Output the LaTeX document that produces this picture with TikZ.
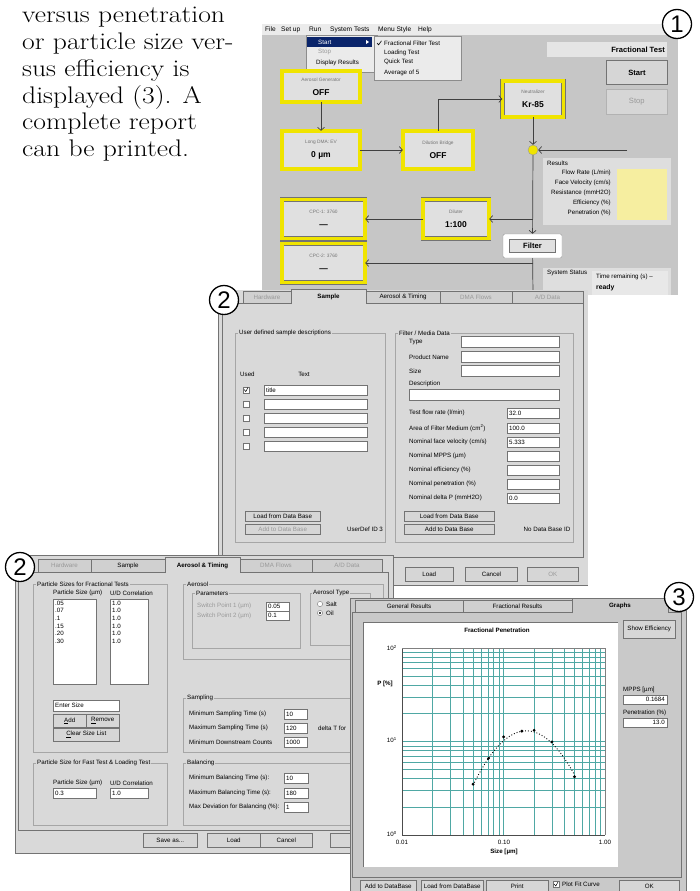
\documentclass[tikz,border=0pt]{standalone}
\usepackage{fontspec}
\setsansfont{Liberation Sans}
\newfontfamily\blurbfont[FakeStretch=1.15]{Latin Modern Roman}
\usetikzlibrary{arrows.meta}
\definecolor{scrgray}{HTML}{C6C6C6}
\definecolor{dlggray}{HTML}{D9D9D9}
\definecolor{gwgray}{HTML}{C9C9C9}
\definecolor{tabgray}{HTML}{D0D0D0}
\definecolor{btngray}{HTML}{D6D6D6}
\definecolor{ylw}{HTML}{F0E400}
\definecolor{boxgray}{HTML}{E0E0E0}
\definecolor{paleylw}{HTML}{F6EEA0}
\definecolor{menublue}{HTML}{0A246A}
\definecolor{gridteal}{HTML}{4FA8A4}
\newcommand\boxlbl[1]{{\fontsize{4.8}{5}\selectfont\color{black!55}#1}}
\newcommand\boxval[1]{{\bfseries\fontsize{8.5}{9}\selectfont #1}}
\begin{document}
\begin{tikzpicture}[x=1pt, y=-1pt,
  gui/.style={font=\sffamily\fontsize{6.2}{7}\selectfont, inner sep=0pt},
  guib/.style={font=\sffamily\bfseries\fontsize{6.2}{7}\selectfont, inner sep=0pt},
  dim/.style={text=black!40},
  ybox/.style={draw=black!55, double=ylw, double distance=3.4pt, line width=0.5pt,
    fill=boxgray, align=center, inner sep=0pt, font=\sffamily},
  flow/.style={black!75, line width=0.7pt, -{Straight Barb[length=3pt,width=7pt]}},
  link/.style={black!75, line width=0.7pt},
  field/.style={draw=black!55, fill=white, line width=0.4pt},
  btn/.style={draw=black!55, fill=btngray, line width=0.5pt, anchor=north west,
    font=\sffamily\fontsize{6.2}{7}\selectfont, inner sep=0pt},
  grp/.style={draw=black!35, line width=0.5pt},
  grptitle/.style={gui, anchor=west, inner xsep=1pt, fill=dlggray},
  tab/.style={draw=black!55, line width=0.5pt, fill=tabgray},
  menupop/.style={draw=black!45, fill=black!8, anchor=north west, inner sep=0pt},
  gridline/.style={gridteal, line width=0.55pt},
  numcirc/.style={circle, draw, line width=1.3pt, fill=white, minimum size=29pt,
    inner sep=0pt, font=\sffamily\fontsize{24}{24}\selectfont}
]
\useasboundingbox (0,0) rectangle (700,891);

% text column
\node[anchor=north west, align=left, inner sep=0pt, font=\blurbfont\fontsize{24}{26.8}\selectfont]
  (blurb) at (22,7) {versus penetration\\or particle size ver-\\sus efficiency is\\displayed (3). A\\complete report\\can be printed.};

% ---- screen 1: main window
\fill[scrgray] (262,24) rectangle (678,295);
\fill[black!8] (262,24) rectangle (678,35);
\foreach \x/\t [count=\i] in {265/File, 281/Set up, 309/Run, 330/System Tests, 378/Menu Style, 418/Help}
  \node[gui, anchor=west, font=\sffamily\fontsize{6.6}{7}\selectfont] (menu\i) at (\x,29.5) {\t};
\node[menupop, minimum width=71, minimum height=37] (runmenu) at (306,35) {};
\fill[menublue] (307,37) rectangle (372,47);
\fill[white] (366,40) -- (369,42) -- (366,44) -- cycle;
\node[gui, text=white, anchor=west] (mstart) at (318,42) {Start};
\node[gui, dim, anchor=west] (mstop) at (318,52) {Stop};
\node[gui, anchor=west] (mdisp) at (316,63) {Display Results};
\node[menupop, minimum width=87, minimum height=44] (submenu) at (374,36) {};
\draw[line width=0.6pt] (377,43) -- (378.6,44.8) -- (381.5,40.8);
\foreach \y/\t [count=\i] in {43/{Fractional Filter Test}, 53/{Loading Test}, 62/{Quick Test}, 73/{Average of 5}}
  \node[gui, anchor=west] (sub\i) at (384,\y) {\t};

\fill[black!10] (547,42) rectangle (667,57);
\node[anchor=east, inner sep=0pt, font=\sffamily\bfseries\fontsize{7.6}{8}\selectfont] (modetxt) at (665,49.5) {Fractional Test};
\node[btn, minimum width=61, minimum height=24, line width=0.8pt, font=\sffamily\bfseries\fontsize{7.6}{8}\selectfont] (startbtn) at (606,60) {Start};
\node[btn, dim, draw=black!30, minimum width=61, minimum height=25, font=\sffamily\fontsize{7.6}{8}\selectfont] (stopbtn) at (606,89) {Stop};

% flow boxes
\node[ybox, minimum width=78, minimum height=31] (aerogen) at (321,86.5) {\boxlbl{Aerosol Generator}\\[2pt]\boxval{OFF}};
\node[ybox, minimum width=78, minimum height=38] (longdma) at (321,150) {\boxlbl{Long DMA: EV}\\[2pt]\boxval{0 µm}};
\node[ybox, minimum width=70, minimum height=38] (dilbridge) at (438,150) {\boxlbl{Dilution Bridge}\\[2pt]\boxval{OFF}};
\node[ybox, minimum width=61, minimum height=36] (neutr) at (533,99) {\boxlbl{Neutralizer}\\[2pt]\boxval{Kr-85}};
\node[ybox, minimum width=66, minimum height=39] (diluter) at (456,219) {\boxlbl{Diluter}\\[2pt]\boxval{1:100}};
\node[ybox, minimum width=83, minimum height=39] (cpcone) at (323.5,219) {\boxlbl{CPC-1: 3760}\\[2pt]\boxval{---}};
\node[ybox, minimum width=83, minimum height=39] (cpctwo) at (323.5,263) {\boxlbl{CPC-2: 3760}\\[2pt]\boxval{---}};
\node[draw=black!40, fill=white, rounded corners=1.5pt, minimum width=59, minimum height=24, inner sep=0pt] (filter) at (532.5,246) {};
\node[draw=black!55, fill=boxgray, minimum width=46, minimum height=13, inner sep=0pt,
  font=\sffamily\bfseries\fontsize{7.6}{8}\selectfont] (filtertxt) at (532.5,246) {Filter};
\node[circle, draw=black!40, fill=ylw, minimum size=10pt, inner sep=0pt] (junct) at (533,150) {};
\coordinate (feed) at (627,150);
\coordinate (sysbot) at (533,295);

\draw[flow] (aerogen) -- (longdma);
\draw[flow] (longdma) -- (dilbridge);
\draw[flow] (dilbridge.north) |- (neutr.west);
\draw[flow] (neutr) -- (junct);
\draw[flow] (feed) -- (junct);
\draw[flow] (junct) -- (filter);
\draw[flow] (junct |- diluter) -- (diluter);
\draw[flow] (diluter) -- (cpcone);
\draw[link] (filter) -- (sysbot);
\draw[flow] (junct |- cpctwo) -- (cpctwo);

% results and status
\fill[black!13] (543,158) rectangle (671,225);
\node[gui, anchor=west] (restitle) at (547,163) {Results};
\foreach \y/\t [count=\i] in {173/{Flow Rate (L/min)}, 183/{Face Velocity (cm/s)}, 193/{Resistance (mmH2O)}, 203/{Efficiency (\%)}, 213/{Penetration (\%)}}
  \node[gui, anchor=east] (res\i) at (611,\y) {\t};
\fill[paleylw] (617,169) rectangle (667,220);
\fill[black!13] (543,268) rectangle (671,295);
\node[gui, anchor=west] (systitle) at (547,273) {System Status};
\fill[black!9] (592,271) rectangle (668,295);
\node[gui, anchor=west] (timerem) at (596,277) {Time remaining (s) --};
\node[guib, anchor=west, font=\sffamily\bfseries\fontsize{6.8}{7}\selectfont] (ready) at (596,288) {ready};

% ---- screen 2: sample tab
\fill[dlggray] (218,290) rectangle (588,585);
\draw[black!55] (218,290) -- (218,585) -- (588,585);
\foreach \a/\b/\t/\c [count=\i] in {243/291/Hardware/black!40, 366/440/{Aerosol \& Timing}/black, 440/512/{DMA Flows}/black!40, 512/583/{A/D Data}/black!40} {
  \draw[tab] (\a,303) -- (\a,291) -- (\b,291) -- (\b,303);
  \node[gui, text=\c] (stab\i) at ({(\a+\b)/2},297) {\t};
}
\draw[black!55, line width=0.5pt] (222,303) rectangle (583,557);
\draw[tab, fill=dlggray] (291,304) -- (291,289) -- (366,289) -- (366,304);
\node[guib] (stabon) at (328.5,297) {Sample};

\draw[grp] (235,333) rectangle (385,542);
\node[grptitle] (udsd) at (238,333) {User defined sample descriptions};
\node[gui, anchor=west] (usedhd) at (240,374) {Used};
\node[gui] (texthd) at (304,374) {Text};
\foreach \i in {0,...,4} {
  \draw[field] (243,{387+14*\i}) rectangle (249,{393+14*\i});
  \draw[field] (264,{385+14*\i}) rectangle (367,{395+14*\i});
}
\draw[line width=0.5pt] (244,389.5) -- (245.8,391.5) -- (248,387.5);
\node[gui, anchor=west] (sdtitle) at (266,390) {title};

\draw[grp] (395,333) rectangle (573,542);
\node[grptitle] (fmd) at (398,333) {Filter / Media Data};
\foreach \y/\t [count=\i] in {342/Type, 357/{Product Name}, 371/Size} {
  \node[gui, anchor=west] (fml\i) at (409,\y) {\t};
  \draw[field] (461,\y-5.5) rectangle (559,\y+5.5);
}
\node[gui, anchor=west] (descl) at (409,384) {Description};
\draw[field] (409,389) rectangle (559,400);
\foreach \y/\t/\v [count=\i] in {413/{Test flow rate (l/min)}/32.0, 428/{Area of Filter Medium (cm\textsuperscript{2})}/100.0,
    442/{Nominal face velocity (cm/s)}/5.333, 456/{Nominal MPPS (µm)}/{}, 470/{Nominal efficiency (\%)}/{},
    484/{Nominal penetration (\%)}/{}, 498/{Nominal delta P (mmH2O)}/0.0} {
  \node[gui, anchor=west] (fmn\i) at (409,\y) {\t};
  \draw[field] (507,\y-5) rectangle (559,\y+5);
  \node[gui, anchor=west] (fmv\i) at (509,\y) {\v};
}
\node[btn, minimum width=75, minimum height=9.5] (sload) at (245,511) {Load from Data Base};
\node[btn, dim, minimum width=75, minimum height=9.5] (sadd) at (245,524) {Add to Data Base};
\node[gui] (userid) at (365,529) {UserDef ID 3};
\node[btn, minimum width=90, minimum height=9.5] (fload) at (404,511) {Load from Data Base};
\node[btn, minimum width=90, minimum height=9.5] (fadd) at (404,524) {Add to Data Base};
\node[gui] (dbid) at (547,529) {No Data Base ID};
\node[btn, minimum width=48, minimum height=14] (sbload) at (405,567) {Load};
\node[btn, minimum width=52, minimum height=14, line width=0.9pt] (sbcancel) at (465,567) {Cancel};
\node[btn, dim, minimum width=51, minimum height=14] (sbok) at (527,567) {OK};

% ---- screen 2: aerosol & timing tab
\fill[dlggray] (15,555) rectangle (393,853);
\draw[black!55] (15,555) rectangle (393,853);
\foreach \a/\b/\t/\c [count=\i] in {38/91/Hardware/black!40, 91/165/Sample/black, 240/312/{DMA Flows}/black!40, 312/382/{A/D Data}/black!40} {
  \draw[tab] (\a,572) -- (\a,559) -- (\b,559) -- (\b,572);
  \node[gui, text=\c] (atab\i) at ({(\a+\b)/2},565.5) {\t};
}
\draw[black!55, line width=0.5pt] (18,572) rectangle (388,830);
\draw[tab, fill=dlggray] (165,573) -- (165,557) -- (240,557) -- (240,573);
\node[guib] (atabon) at (202.5,565.5) {Aerosol \& Timing};

\draw[grp] (33,584) rectangle (167,752);
\node[grptitle] (psft) at (36,584) {Particle Sizes for Fractional Tests};
\node[gui, anchor=west] (pszhd) at (53,593) {Particle Size (µm)};
\node[gui, anchor=west] (udhd) at (110,593) {U/D Correlation};
\draw[field] (53,599) rectangle (96,684);
\draw[field] (110,599) rectangle (148,684);
\foreach \v [count=\i] in {.05,.07,.1,.15,.20,.30} {
  \node[gui, anchor=west] (psz\i) at (55,{595.5+7.6*\i}) {\v};
  \node[gui, anchor=west] (udc\i) at (112,{595.5+7.6*\i}) {1.0};
}
\draw[field] (53,700) rectangle (119,711);
\node[gui, anchor=west] (entersz) at (55,705.5) {Enter Size};
\node[btn, minimum width=33, minimum height=13] (addbtn) at (53,714) {\underline{A}dd};
\node[btn, minimum width=33, minimum height=13] (rembtn) at (86,714) {\underline{R}emove};
\node[btn, minimum width=66, minimum height=13] (clrbtn) at (53,728) {\underline{C}lear Size List};

\draw[grp] (183,584) rectangle (383,659);
\node[grptitle] (aertitle) at (186,584) {Aerosol};
\draw[grp] (192,593) rectangle (300,648);
\node[grptitle] (partitle) at (195,593) {Parameters};
\node[gui, dim, anchor=west] (sp1) at (197,606) {Switch Point 1 (µm)};
\node[gui, dim, anchor=west] (sp2) at (197,615.5) {Switch Point 2 (µm)};
\draw[field] (266,602) rectangle (289,611);
\draw[field] (266,611) rectangle (289,620);
\node[gui, anchor=west] (sp1v) at (268,606.5) {0.05};
\node[gui, anchor=west] (sp2v) at (268,615.5) {0.1};
\draw[grp] (310,593) rectangle (370,645);
\node[grptitle] (typtitle) at (312,593) {Aerosol Type};
\draw[field] (320,604) circle (2.6pt);
\draw[field] (320,613) circle (2.6pt);
\fill (320,613) circle (1.2pt);
\node[gui, anchor=west] (salt) at (326,604) {Salt};
\node[gui, anchor=west] (oil) at (326,613) {Oil};

\draw[grp] (183,698) rectangle (383,752);
\node[grptitle] (samptitle) at (186,698) {Sampling};
\foreach \y/\t/\v [count=\i] in {714/{Minimum Sampling Time (s)}/10, 728/{Maximum Sampling Time (s)}/120, 742/{Minimum Downstream Counts}/1000} {
  \node[gui, anchor=west] (sml\i) at (189,\y) {\t};
  \draw[field] (284,\y-5) rectangle (307,\y+5);
  \node[gui, anchor=west] (smv\i) at (286,\y) {\v};
}
\node[gui, anchor=west] (deltat) at (318,728) {delta T for};

\draw[grp] (33,763) rectangle (167,825);
\node[grptitle] (psfl) at (36,763) {Particle Size for Fast Test \& Loading Test};
\node[gui, anchor=west] (fpszhd) at (53,783) {Particle Size (µm)};
\node[gui, anchor=west] (fudhd) at (110,783) {U/D Correlation};
\draw[field] (53,788) rectangle (96,798);
\draw[field] (110,788) rectangle (148,798);
\node[gui, anchor=west] (fpszv) at (55,793) {0.3};
\node[gui, anchor=west] (fudv) at (112,793) {1.0};

\draw[grp] (183,763) rectangle (383,825);
\node[grptitle] (baltitle) at (186,763) {Balancing};
\foreach \y/\t/\v [count=\i] in {778/{Minimum Balancing Time (s):}/10, 793/{Maximum Balancing Time (s):}/180, 807/{Max Deviation for Balancing (\%):}/1} {
  \node[gui, anchor=west] (bal\i) at (189,\y) {\t};
  \draw[field] (284,\y-5) rectangle (308,\y+5);
  \node[gui, anchor=west] (balv\i) at (286,\y) {\v};
}
\node[btn, minimum width=54, minimum height=14] (saveas) at (143,833) {Save as...};
\node[btn, minimum width=53, minimum height=14] (aload) at (207,833) {Load};
\node[btn, minimum width=52, minimum height=14] (acancel) at (260,833) {Cancel};
\node[btn, minimum width=45, minimum height=14] (aok) at (330,833) {};

% ---- screen 3: graphs tab
\fill[gwgray] (350,598) rectangle (686,891);
\draw[black!55] (350,891) -- (350,598) -- (686,598) -- (686,891);
\foreach \a/\b/\t [count=\i] in {355/463/{General Results}, 463/572/{Fractional Results}} {
  \draw[tab] (\a,612) -- (\a,600) -- (\b,600) -- (\b,612);
  \node[gui] (gtab\i) at ({(\a+\b)/2},606) {\t};
}
\draw[black!55, line width=0.5pt] (352,612) rectangle (681,877);
\draw[tab, fill=gwgray] (572,613) -- (572,598) -- (668,598) -- (668,613);
\node[guib] (gtabon) at (620,606) {Graphs};
\fill[white] (363,622) rectangle (618,867);
\draw[black!55] (363,867) -- (363,622) -- (618,622);
\node[guib] (plottitle) at (497,630.5) {Fractional Penetration};
\node[btn, minimum width=52, minimum height=18] (showeff) at (623,620) {Show Efficiency};
\node[gui, anchor=west] (mppsl) at (623,690) {MPPS [µm]};
\draw[field] (623,695) rectangle (667,704);
\node[gui, anchor=east] (mppsv) at (665,699.5) {0.1684};
\node[gui, anchor=west] (penl) at (623,713) {Penetration (\%)};
\draw[field] (623,718) rectangle (667,727);
\node[gui, anchor=east] (penv) at (665,722.5) {13.0};

\begin{scope}[shift={(402,835)}, x=101.5pt, y=93.5pt]
  \foreach \d in {0,1} \foreach \m in {1,...,9} {
    \draw[gridline] ({\d+log10(\m)},0) -- ({\d+log10(\m)},2);
    \draw[gridline] (0,{\d+log10(\m)}) -- (2,{\d+log10(\m)});
  }
  \draw[black!70, line width=1pt] (0,2) -- (0,0) -- (2,0);
  \draw[black!50, line width=0.5pt] (0,2) -- (2,2) -- (2,0);
  \draw[black, line width=0.9pt, dotted] plot[domain=0.70:1.70, samples=40] (\x, {1.114-2.1*(\x-1.226)^2});
  \foreach \s/\p in {0.05/3.5, 0.07/6.6, 0.1/11.2, 0.15/12.9, 0.2/13.2, 0.3/9.9, 0.5/4.2}
    \fill ({2+log10(\s)},{log10(\p)}) circle (1.6pt);
\end{scope}
\node[gui, anchor=east] (ytop) at (397,648) {10\textsuperscript{2}};
\node[guib, anchor=east] (ylab) at (393,684) {P [\%]};
\node[gui, anchor=east] (ymid) at (397,740) {10\textsuperscript{1}};
\node[gui, anchor=east] (ybot) at (397,834) {10\textsuperscript{0}};
\node[gui] (xone) at (402,842) {0.01};
\node[gui] (xtwo) at (504,842) {0.10};
\node[gui] (xthree) at (605,842) {1.00};
\node[guib] (xlab) at (504,852) {Size [µm]};

\node[btn, minimum width=56, minimum height=12] (gadd) at (360,880) {Add to DataBase};
\node[btn, minimum width=62, minimum height=12] (gload) at (421,880) {Load from DataBase};
\node[btn, minimum width=62, minimum height=12] (gprint) at (486,880) {Print};
\draw[field] (553,881) rectangle (559,887);
\draw[line width=0.5pt] (554,884) -- (555.8,886) -- (558,882);
\node[gui, anchor=west] (fitcb) at (562,884) {Plot Fit Curve};
\node[btn, minimum width=60, minimum height=12] (gok) at (619,880) {OK};

% step numbers
\node[numcirc] (numone) at (677,24) {1};
\node[numcirc] (numtwo) at (224,300) {2};
\node[numcirc] (numtwob) at (20,567) {2};
\node[numcirc] (numthree) at (679,597) {3};
\end{tikzpicture}
\end{document}
